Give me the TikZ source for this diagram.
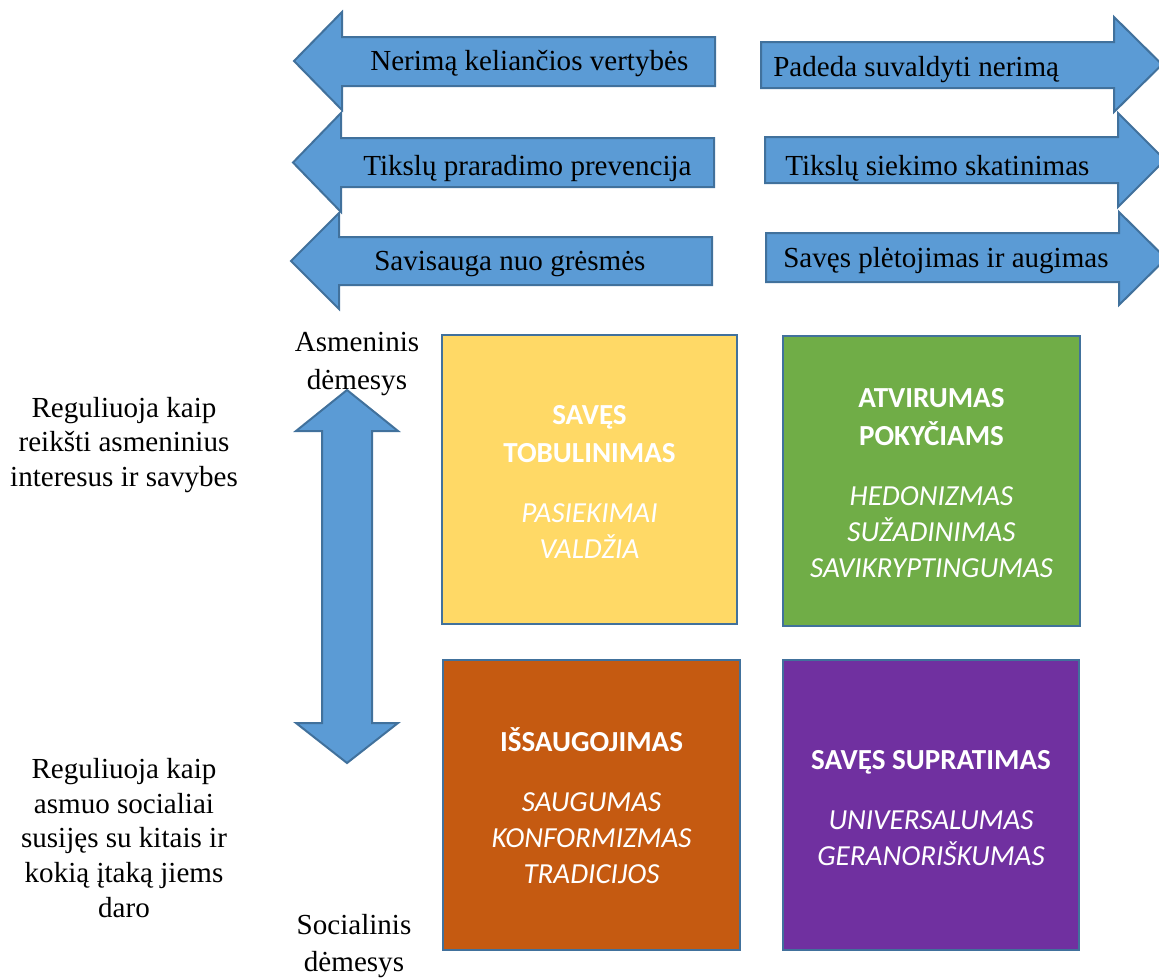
\documentclass[tikz,border=0pt]{standalone}
\usepackage{fontspec}
\setmainfont{Liberation Serif}
\newfontfamily\boxfont{Carlito}
\definecolor{arrowfill}{HTML}{5B9BD5}
\definecolor{arrowdraw}{HTML}{41719C}
\definecolor{boxyellow}{HTML}{FFD966}
\definecolor{boxgreen}{HTML}{70AD47}
\definecolor{boxorange}{HTML}{C55A11}
\definecolor{boxpurple}{HTML}{7030A0}
\begin{document}
\begin{tikzpicture}[x=0.75pt,y=-0.75pt,
  blockarrow/.style={fill=arrowfill,draw=arrowdraw,line width=1.5pt,line join=miter},
  valbox/.style={draw=arrowdraw,line width=1.6pt},
  arrowtext/.style={font=\fontsize{21.8}{26}\selectfont,inner sep=0pt,anchor=base west},
  sidetext/.style={font=\fontsize{21.8}{26.2}\selectfont,align=center,inner sep=0pt},
  poletext/.style={font=\fontsize{21.8}{27.8}\selectfont,align=center,inner sep=0pt},
  boxtext/.style={font=\boxfont\fontsize{21.8}{27}\selectfont,text=white,align=center,inner sep=0pt}]
\useasboundingbox (0,0) rectangle (1159,978);
\clip (0,0) rectangle (1159,978);

% left-pointing block arrows
\draw[blockarrow] (715,37) -- (342,37) -- (342,12) -- (294,61) -- (342,110) -- (342,86) -- (715,86) -- cycle;
\draw[blockarrow] (714,138) -- (341,138) -- (341,113) -- (293,162.5) -- (341,212) -- (341,187) -- (714,187) -- cycle;
\draw[blockarrow] (712,237) -- (339,237) -- (339,213) -- (291,261) -- (339,309) -- (339,285) -- (712,285) -- cycle;
\node[arrowtext] (l1) at (370,70) {Nerimą keliančios vertybės};
\node[arrowtext] (l2) at (363,175) {Tikslų praradimo prevencija};
\node[arrowtext] (l3) at (374,270) {Savisauga nuo grėsmės};

% right-pointing block arrows
\draw[blockarrow] (761,42) -- (1114,42) -- (1114,17) -- (1162,64.5) -- (1114,112) -- (1114,88) -- (761,88) -- cycle;
\draw[blockarrow] (765,137) -- (1118,137) -- (1118,113) -- (1165,160) -- (1118,207) -- (1118,183) -- (765,183) -- cycle;
\draw[blockarrow] (766,233) -- (1119,233) -- (1119,212) -- (1166,258.5) -- (1119,305) -- (1119,282) -- (766,282) -- cycle;
\node[arrowtext] (r1) at (773,76) {Padeda suvaldyti nerimą};
\node[arrowtext] (r2) at (785,175) {Tikslų siekimo skatinimas};
\node[arrowtext] (r3) at (783,267) {Savęs plėtojimas ir augimas};

% vertical double arrow
\draw[blockarrow] (347,390) -- (398,431) -- (372,431) -- (372,723) -- (398,723) -- (347,763) -- (296,723) -- (322,723) -- (322,431) -- (296,431) -- cycle;

% side labels
\node[poletext] (asm) at (357,364) {Asmeninis\\dėmesys};
\node[poletext] (soc) at (354,946) {Socialinis\\dėmesys};
\node[sidetext] (reg1) at (124,445) {Reguliuoja kaip\\reikšti asmeninius\\interesus ir savybes};
\node[sidetext] (reg2) at (124,838) {Reguliuoja kaip\\asmuo socialiai\\susijęs su kitais ir\\kokią įtaką jiems\\daro};

% value boxes
\draw[valbox,fill=boxyellow] (442,335) rectangle (737,624);
\draw[valbox,fill=boxgreen] (783,336) rectangle (1080,626);
\draw[valbox,fill=boxorange] (443,660) rectangle (740,950);
\draw[valbox,fill=boxpurple] (783,660) rectangle (1079,950);

\node[boxtext] (yel) at (589.5,482) {\bfseries SAVĘS\\[2pt]\bfseries TOBULINIMAS\\[18pt]\itshape PASIEKIMAI\\\itshape VALDŽIA};
\node[boxtext] (grn) at (931.5,483) {\bfseries ATVIRUMAS\\[2pt]\bfseries POKYČIAMS\\[18pt]\itshape HEDONIZMAS\\\itshape SUŽADINIMAS\\\itshape SAVIKRYPTINGUMAS};
\node[boxtext] (org) at (591.5,806) {\bfseries IŠSAUGOJIMAS\\[18pt]\itshape SAUGUMAS\\\itshape KONFORMIZMAS\\\itshape TRADICIJOS};
\node[boxtext] (pur) at (931,808) {\bfseries SAVĘS SUPRATIMAS\\[18pt]\itshape UNIVERSALUMAS\\\itshape GERANORIŠKUMAS};
\end{tikzpicture}
\end{document}
